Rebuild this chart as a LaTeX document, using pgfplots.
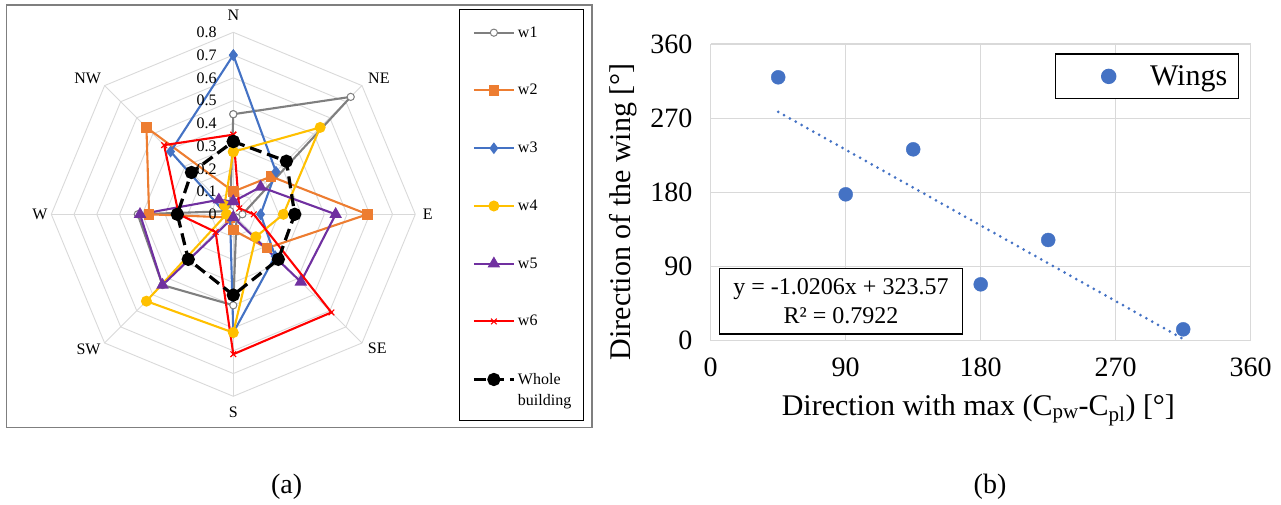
\documentclass[border=0pt]{standalone}
\usepackage{fontspec}
\setmainfont{Liberation Serif}
\usepackage{pgfplots}
\pgfplotsset{compat=1.18}
\usepgfplotslibrary{polar}
\usepackage{pgfplotstable}

\definecolor{cw1}{HTML}{7F7F7F}
\definecolor{cw2}{HTML}{ED7D31}
\definecolor{cw3}{HTML}{4472C4}
\definecolor{cw4}{HTML}{FFC000}
\definecolor{cw5}{HTML}{7030A0}
\definecolor{cw6}{HTML}{FF0000}
\definecolor{gridc}{HTML}{D9D9D9}

% radius values for N, NE, E, SE, S, SW, W, NW (loop closed at N)
\pgfplotstableread{
ang w1 w2 w3 w4 w5 w6 wb
90 0.44 0.10 0.70 0.275 0.056 0.35 0.32
45 0.73 0.235 0.265 0.54 0.17 0.037 0.33
0 0.04 0.59 0.12 0.22 0.45 0.09 0.27
315 0.02 0.21 0.26 0.14 0.42 0.61 0.28
270 0.40 0.07 0.52 0.52 0.013 0.615 0.355
225 0.44 0.02 0.02 0.54 0.44 0.11 0.28
180 0.42 0.37 0.03 0.03 0.41 0.24 0.246
135 0.02 0.54 0.39 0.055 0.09 0.43 0.26
90 0.44 0.10 0.70 0.275 0.056 0.35 0.32
}\radar

\pgfplotstableread{
x y
45 319.6
90 177.6
135 232.2
180 68.4
225 122.2
315 13.8
}\wings

\tikzset{radlab/.style={font=\fontsize{16}{18}\selectfont}}

\begin{document}
\begin{tikzpicture}[x=1pt,y=1pt]
\path[use as bounding box] (0,0) rectangle (1281,504);
% panel (a) frame and legend frame
\draw[cw1, line width=1.3pt] (6.5,499) rectangle (592,76.3);
\draw[black, line width=1pt] (459.7,494) rectangle (583,84);

\begin{polaraxis}[
  at={(233.3pt,289.7pt)}, anchor=center,
  scale only axis, width=364pt, height=364pt,
  ymin=0, ymax=0.8,
  hide axis, clip=false,
  legend cell align=left,
  legend image code/.code={\draw[mark repeat=2,mark phase=2,#1] plot coordinates {(0pt,0pt) (20pt,0pt) (40pt,0pt)};},
  legend style={at={(axis description cs:1.156,1.023)}, anchor=north west,
    draw=none, fill=none, inner sep=0pt, row sep=40.7pt,
    font=\fontsize{16}{21}\selectfont, nodes={inner sep=2.5pt}},
]
\pgfplotsinvokeforeach{0.1,0.2,0.3,0.4,0.5,0.6,0.7,0.8}{
  \addplot[gridc, line width=0.9pt, forget plot] coordinates {(0,#1) (45,#1) (90,#1) (135,#1) (180,#1) (225,#1) (270,#1) (315,#1) (360,#1)};
}
\pgfplotsinvokeforeach{0,45,90,135,180,225,270,315}{
  \addplot[gridc, line width=0.9pt, forget plot] coordinates {(#1,0) (#1,0.8)};
}
\addplot[cw1, line width=2.1pt, mark=*, mark size=3.6pt, mark options={fill=white, line width=1pt}] table[x=ang, y=w1] {\radar};
\addlegendentry{w1}
\addplot[cw2, line width=2.1pt, mark=square*, mark size=4.2pt] table[x=ang, y=w2] {\radar};
\addlegendentry{w2}
\addplot[cw3, line width=2.1pt, mark=diamond*, mark size=4.2pt] table[x=ang, y=w3] {\radar};
\addlegendentry{w3}
\addplot[cw4, line width=2.1pt, mark=*, mark size=4.4pt] table[x=ang, y=w4] {\radar};
\addlegendentry{w4}
\addplot[cw5, line width=2.1pt, mark=triangle*, mark size=5.2pt] table[x=ang, y=w5] {\radar};
\addlegendentry{w5}
\addplot[cw6, line width=2.1pt, mark=x, mark size=4pt, mark options={line width=1.1pt}] table[x=ang, y=w6] {\radar};
\addlegendentry{w6}
\addplot[black, line width=3.2pt, dash pattern=on 12pt off 6pt, mark=*, mark size=5pt, mark options={solid}] table[x=ang, y=wb] {\radar};
\addlegendentry{\raisebox{0pt}[\height][0pt]{\vtop{\hbox{Whole}\hbox{building}}}}
% direction labels
\node[radlab] at (axis cs:90,0.875) {N};
\node[radlab] at (axis cs:43,0.875) {NE};
\node[radlab] at (axis cs:0,0.855) {E};
\node[radlab] at (axis cs:317,0.865) {SE};
\node[radlab] at (axis cs:270,0.87) {S};
\node[radlab] at (axis cs:223,0.87) {SW};
\node[radlab] at (axis cs:180,0.85) {W};
\node[radlab] at (axis cs:137,0.875) {NW};
% radial tick labels along N spoke
\pgfplotsinvokeforeach{0,0.1,0.2,0.3,0.4,0.5,0.6,0.7,0.8}{
  \node[radlab, anchor=east, inner sep=0pt, xshift=-16.6pt] at (axis cs:90,#1) {#1};
}
\end{polaraxis}

\begin{axis}[
  at={(710.7pt,163.3pt)}, anchor=south west,
  scale only axis, width=540pt, height=296.7pt,
  xmin=0, xmax=360, ymin=0, ymax=360,
  xtick={0,90,180,270,360}, ytick={0,90,180,270,360},
  grid=major, major grid style={draw=gridc, line width=1.3pt},
  axis line style={draw=none}, tick style={draw=none},
  /pgf/number format/assume math mode=true,
  ticklabel style={font=\fontsize{28}{32}\selectfont},
  every x tick label/.append style={yshift=-13.5pt},
  every y tick label/.append style={xshift=-14.7pt},
  xlabel={Direction with max (C\textsubscript{pw}-C\textsubscript{pl}) [°]},
  ylabel={Direction of the wing [°]},
  xlabel style={at={(axis description cs:0.4957,-0.2336)}, anchor=center, font=\fontsize{30}{34}\selectfont},
  ylabel style={at={(axis description cs:-0.1619,0.435)}, anchor=center, font=\fontsize{30}{34}\selectfont},
  legend image code/.code={\path (-41.3pt,0pt) (40.7pt,0pt); \draw[#1] plot coordinates {(0pt,0pt)};},
  legend style={at={(axis description cs:0.6376,0.968)}, anchor=north west,
    draw=black, line width=1.4pt, fill=white, inner xsep=11pt, inner ysep=11.5pt,
    column sep=0pt, nodes={inner sep=0pt},
    font=\fontsize{30}{34}\selectfont},
]
\addplot[cw3, line width=3pt, line cap=round, dash pattern=on 0pt off 6.7pt, forget plot] coordinates {(45,277.64) (315,2.08)};
\addplot[only marks, mark=*, mark size=7pt, cw3] table[x=x, y=y] {\wings};
\addlegendentry{Wings}
\node[draw=black, line width=1.3pt, fill=white, align=center, minimum width=243.4pt, minimum height=65.7pt, inner sep=0pt,
  font=\fontsize{24}{28.5}\selectfont] at (axis description cs:0.2413,0.1331) {y = -1.0206x + 323.57\\R² = 0.7922};
\end{axis}

\node[font=\fontsize{28}{32}\selectfont] at (286.7,17.3) {(a)};
\node[font=\fontsize{28}{32}\selectfont] at (990,17.3) {(b)};
\end{tikzpicture}
\end{document}
